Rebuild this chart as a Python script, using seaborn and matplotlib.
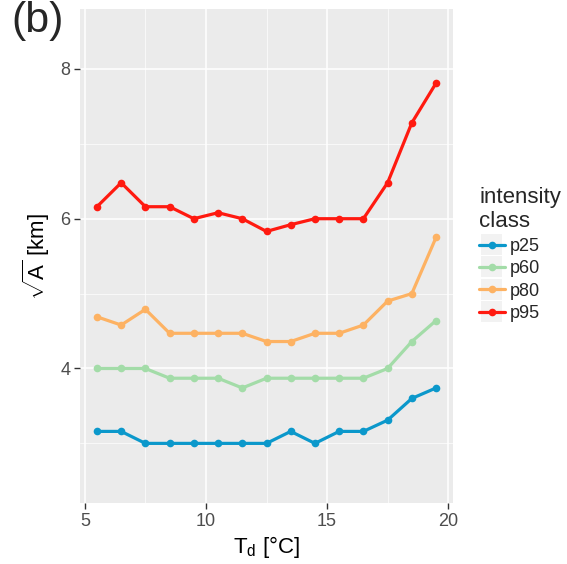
import numpy as np
import pandas as pd
import matplotlib
matplotlib.use("Agg")
import matplotlib.pyplot as plt
import seaborn as sns
from matplotlib.ticker import MultipleLocator
from matplotlib.patches import Rectangle

# ---- data ----
td = [5.5, 6.5, 7.5, 8.5, 9.5, 10.5, 11.5, 12.5, 13.5, 14.5, 15.5, 16.5, 17.5, 18.5, 19.5]
p25 = [3.16, 3.16, 3.00, 3.00, 3.00, 3.00, 3.00, 3.00, 3.16, 3.00, 3.16, 3.16, 3.31, 3.60, 3.74]
p60 = [4.00, 4.00, 4.00, 3.87, 3.87, 3.87, 3.74, 3.87, 3.87, 3.87, 3.87, 3.87, 4.00, 4.36, 4.64]
p80 = [4.69, 4.58, 4.79, 4.47, 4.47, 4.47, 4.47, 4.36, 4.36, 4.47, 4.47, 4.58, 4.90, 5.00, 5.75]
p95 = [6.16, 6.48, 6.16, 6.16, 6.00, 6.08, 6.00, 5.83, 5.92, 6.00, 6.00, 6.00, 6.48, 7.28, 7.81]
classes = ["p25", "p60", "p80", "p95"]
colors = ["#0B98CB", "#A3DCA8", "#FDB263", "#FF1A10"]

df = pd.DataFrame({
    "Td": td * 4,
    "val": p25 + p60 + p80 + p95,
    "cls": sum([[c] * len(td) for c in classes], []),
})

sns.set_theme(style="darkgrid", rc={
    "axes.facecolor": "#EBEBEB",
    "grid.color": "white",
})
plt.rcParams["font.family"] = ["Liberation Sans", "DejaVu Sans"]
plt.rcParams["mathtext.fontset"] = "custom"
plt.rcParams["mathtext.rm"] = "Liberation Sans"
plt.rcParams["mathtext.it"] = "Liberation Sans:italic"

fig = plt.figure(figsize=(5.67, 5.64), dpi=100)
ax = fig.add_axes([80 / 567, 1 - 503.3 / 564, (453 - 80) / 567, (503.3 - 9) / 564])

sns.lineplot(data=df, x="Td", y="val", hue="cls", palette=dict(zip(classes, colors)),
             marker="o", markersize=5.5, markeredgewidth=0, linewidth=2.3, ax=ax)

ax.set_xlim(4.8, 20.2)
ax.set_ylim(2.2, 8.8)
ax.xaxis.set_major_locator(MultipleLocator(5))
ax.xaxis.set_minor_locator(MultipleLocator(2.5))
ax.yaxis.set_major_locator(MultipleLocator(2))
ax.yaxis.set_minor_locator(MultipleLocator(1))
ax.grid(which="major", color="white", linewidth=1.1)
ax.grid(which="minor", color="white", linewidth=0.5)
for s in ax.spines.values():
    s.set_visible(False)
ax.tick_params(which="major", length=4, width=1, color="#333333",
               labelcolor="#4D4D4D", labelsize=13, pad=3, bottom=True, left=True)
ax.tick_params(which="minor", length=0)

ax.set_xlabel(r"T$_\mathrm{d}$ [°C]", fontsize=16, color="black", labelpad=3)
ax.set_ylabel(r"$\sqrt{\mathrm{A}}$ [km]", fontsize=16, color="black", labelpad=6)

handles, labels = ax.get_legend_handles_labels()
ax.legend_.remove()
leg = fig.legend(handles, labels, title="intensity\nclass", loc="upper left",
                 bbox_to_anchor=(472 / 567, 1 - 180 / 564), frameon=False,
                 fontsize=13, title_fontsize=16, handlelength=1.4,
                 handletextpad=0.3, labelspacing=0.3, alignment="left",
                 borderaxespad=0)

fig.text(11 / 567, 1 - 1 / 564, "(b)", fontsize=31, va="top", ha="left")

# light grey key backgrounds, as in ggplot legends
fig.canvas.draw()
renderer = fig.canvas.get_renderer()
W, H = fig.bbox.width, fig.bbox.height
for h in leg.legend_handles:
    bb = h.get_window_extent(renderer)
    cx, cy = (bb.x0 + bb.x1) / 2, (bb.y0 + bb.y1) / 2
    size = 21
    fig.patches.append(Rectangle(((cx - size / 2) / W, (cy - size / 2) / H),
                                 size / W, size / H, transform=fig.transFigure,
                                 facecolor="#F2F2F2", edgecolor="none", zorder=0))

fig.savefig("out.png", dpi=100)
